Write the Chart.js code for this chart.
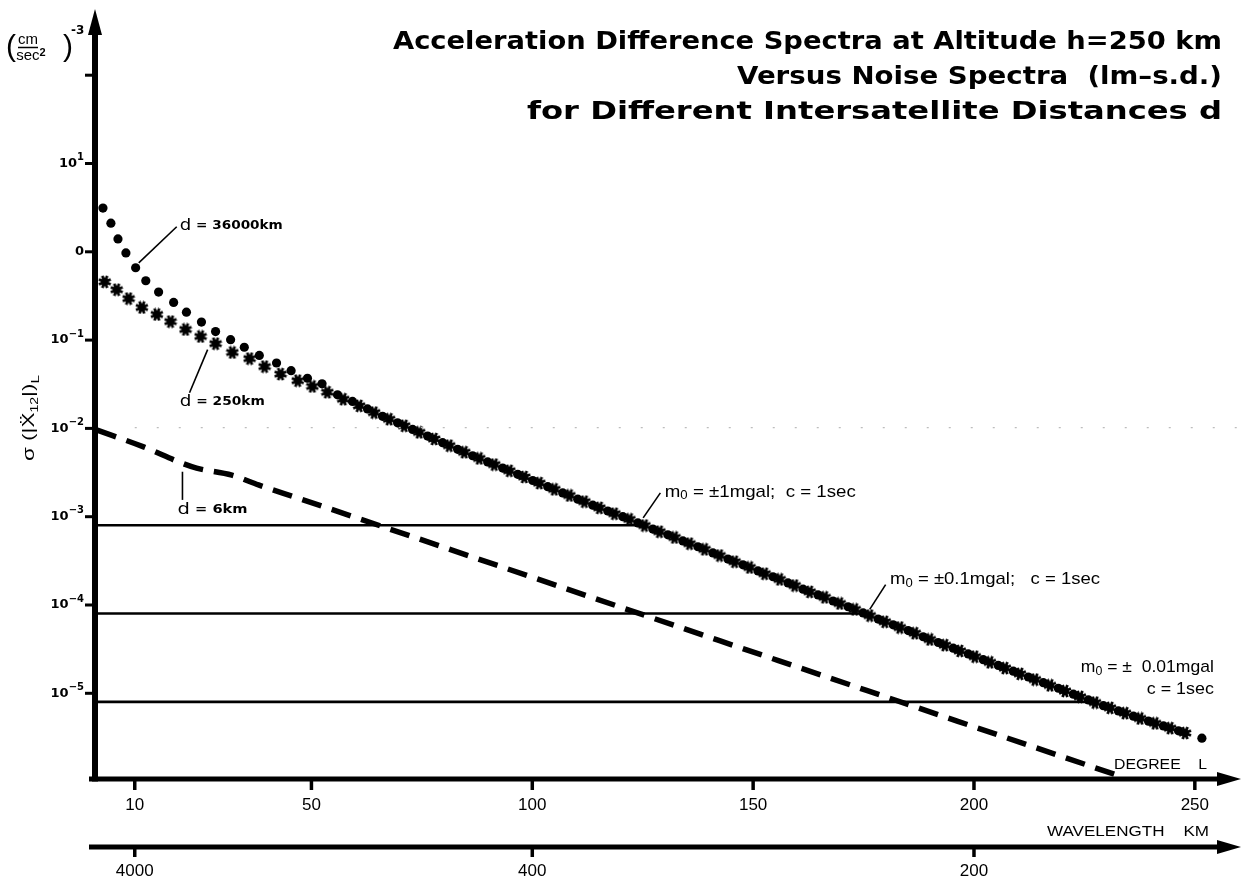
<!DOCTYPE html>
<html><head><meta charset="utf-8">
<script src="https://cdn.jsdelivr.net/npm/chart.js@4.4.1/dist/chart.umd.min.js"></script>
<style>html,body{margin:0;padding:0;background:#fff;}#wrap{width:1247px;height:880px;position:relative;}</style>
</head><body><div id="wrap"><canvas id="c" width="1247" height="880"></canvas></div>
<script>
// ---------------- DATA ----------------
// d = 250 km (stars)
const starDegrees = [3.2,5.9,8.6,11.6,15.0,18.1,21.5,24.9,28.3,32.1,36.0,39.4,43.0,46.9,50.2,53.6,57.2,60.8,64.2,67.6,71.0,74.4,77.8,81.2,84.6,88.0,91.4,94.8,98.2,101.6,105.0,108.4,111.8,115.2,118.6,122.0,125.4,128.8,132.2,135.6,139.0,142.4,145.8,149.2,152.6,156.0,159.4,162.8,166.2,169.6,173.0,176.4,179.8,183.2,186.6,190.0,193.4,196.8,200.2,203.6,207.0,210.4,213.8,217.2,220.6,224.0,227.4,230.8,234.2,237.6,241.0,244.4,247.8];
const starValues = [0.457,0.372,0.295,0.234,0.195,0.162,0.132,0.110,0.0912,0.0724,0.0617,0.0501,0.0412,0.0347,0.0299,0.0257,0.0214,0.0180,0.0151,0.0127,0.0107,0.00902,0.00759,0.00638,0.00537,0.00457,0.00389,0.00331,0.00282,0.00240,0.00204,0.00174,0.00148,0.00126,0.00108,0.000933,0.000794,0.000676,0.000582,0.000495,0.000427,0.000363,0.000309,0.000266,0.000226,0.000195,0.000166,0.000141,0.000122,0.000104,8.91e-5,7.59e-5,6.46e-5,5.56e-5,4.79e-5,4.07e-5,3.51e-5,3.02e-5,2.60e-5,2.24e-5,1.93e-5,1.66e-5,1.43e-5,1.23e-5,1.06e-5,9.12e-6,7.85e-6,6.84e-6,5.96e-6,5.19e-6,4.57e-6,4.03e-6,3.55e-6];
// d = 36000 km (dots)
const dotDegrees = [2.8,4.6,6.2,8.0,10.2,12.5,15.4,18.8,21.7,25.1,28.3,31.7,34.8,38.2,42.1,45.4,49.1,52.4,55.9,59.3,62.7,66.1,69.5,72.9,76.3,79.7,83.1,86.5,89.9,93.3,96.7,100.1,103.5,106.9,110.3,113.7,117.1,120.5,123.9,127.3,130.7,134.1,137.5,140.9,144.3,147.7,151.1,154.5,157.9,161.3,164.7,168.1,171.5,174.9,178.3,181.7,185.1,188.5,191.9,195.3,198.7,202.1,205.5,208.9,212.3,215.7,219.1,222.5,225.9,229.3,232.7,236.1,239.5,242.9,246.3,251.6];
const dotValues = [3.13,2.11,1.40,0.97,0.66,0.47,0.35,0.267,0.207,0.160,0.125,0.101,0.083,0.067,0.055,0.045,0.037,0.032,0.0240,0.0202,0.0166,0.0137,0.01156,0.00973,0.00818,0.00689,0.00579,0.00490,0.00417,0.00355,0.00302,0.00257,0.00219,0.00186,0.00158,0.00135,0.00116,0.00100,0.000851,0.000724,0.000624,0.000531,0.000457,0.000389,0.000331,0.000285,0.000243,0.000209,0.000178,0.000151,0.000130,0.000111,9.55e-5,8.13e-5,6.92e-5,5.96e-5,5.13e-5,4.37e-5,3.76e-5,3.24e-5,2.79e-5,2.40e-5,2.07e-5,1.78e-5,1.53e-5,1.32e-5,1.14e-5,9.77e-6,8.41e-6,7.24e-6,6.31e-6,5.50e-6,4.84e-6,4.27e-6,3.76e-6,3.1e-6];
// d = 6 km (dashed)
const dashDegrees = [1.5,12,21,24,32,38,47,140,232];
const dashValues = [0.00955,0.00617,0.00398,0.00355,0.00295,0.00229,0.00162,4.33e-5,1.2e-6];
// noise spectra (horizontal lines)
const noiseLevels = [8e-4, 8e-5, 8e-6];
const noiseEndDegrees = [125, 174.3, 227];
// faint scan line
const faintLevel = [0.0102];
// axes
const degreeTicks = [10,50,100,150,200,250];
const wavelengthTickDegrees = [10,100,200];
const wavelengthLabels = ['4000','400','200'];
const yTickValues = [1e2,1e1,1,1e-1,1e-2,1e-3,1e-4,1e-5];
const yTickBase = ['','10','0','10','10','10','10','10'];
const yTickSup = ['','1','','-1','-2','-3','-4','-5'];

// ---------------- MARKERS ----------------
function makeStar(size){
  const c=document.createElement('canvas');c.width=c.height=size;
  const g=c.getContext('2d');const r=size/2;
  g.translate(r,r);g.strokeStyle='#000';g.fillStyle='#000';g.lineWidth=2.8;
  for(let i=0;i<8;i++){const a=i*Math.PI/4+Math.PI/8;g.beginPath();g.moveTo(0,0);g.lineTo(Math.cos(a)*(r-0.6),Math.sin(a)*(r-0.6));g.stroke();}
  g.beginPath();g.arc(0,0,r*0.52,0,Math.PI*2);g.fill();
  return c;
}
const starImg = makeStar(14);

function pts(xs, ys){return xs.map((x,i)=>({x:x,y:ys[i]}));}

const datasets = [];
datasets.push({label:'faint',data:[{x:10,y:faintLevel[0]},{x:260,y:faintLevel[0]}],showLine:true,borderColor:'#bdbdbd',borderWidth:1.2,borderDash:[2,20],pointRadius:0});
noiseLevels.forEach((lv,i)=>{
  datasets.push({label:'noise'+i,data:[{x:1,y:lv},{x:noiseEndDegrees[i],y:lv}],showLine:true,borderColor:'#000',borderWidth:2.6,pointRadius:0});
});
datasets.push({label:'d=6km',data:pts(dashDegrees,dashValues),showLine:true,borderColor:'#000',borderWidth:5.5,borderDash:[20,11],borderCapStyle:'butt',pointRadius:0,tension:0.3,cubicInterpolationMode:'monotone'});
datasets.push({label:'d=250km',data:pts(starDegrees,starValues),showLine:false,pointStyle:starImg,pointRadius:7,backgroundColor:'#000',borderColor:'#000'});
datasets.push({label:'d=36000km',data:pts(dotDegrees,dotValues),showLine:false,pointStyle:'circle',pointRadius:4.6,backgroundColor:'#000',borderColor:'#000',borderWidth:0});

// ---------------- TEXT HELPERS ----------------
function runs(ctx, parts, x, y, align, width){
  let total=0;const ws=parts.map(p=>{ctx.font=p[1];const w=ctx.measureText(p[0]).width;total+=w;return w;});
  const sx=width?width/total:1;const W=total*sx;
  const x0=align==='right'?x-W:align==='center'?x-W/2:x;
  ctx.save();ctx.translate(x0,y);ctx.scale(sx,1);ctx.textBaseline='middle';ctx.textAlign='left';
  let cx=0;parts.forEach((p,i)=>{ctx.font=p[1];ctx.fillText(p[0],cx,p[2]||0);cx+=ws[i];});
  ctx.restore();return W;
}
const NARROW='"Liberation Sans Narrow","Liberation Sans",sans-serif';
const SANS='"Liberation Sans",Arial,sans-serif';
const DJ='"DejaVu Sans",sans-serif';

const curveLabels = [
  {parts:[['d',`16px ${DJ}`],[' = 36000km',`bold 12px ${DJ}`]], at:[20.2,1.97], align:'left', width:103},
  {parts:[['d',`16px ${DJ}`],[' = 250km',`bold 12px ${DJ}`]], at:[20.2,0.02], align:'left', width:85},
  {parts:[['d',`16px ${DJ}`],[' = 6km',`bold 12px ${DJ}`]], at:[19.7,0.0012], align:'left', width:70},
  {parts:[['m',`17px ${NARROW}`],['0',`12px ${NARROW}`,4],[' = ±1mgal;  c = 1sec',`17px ${NARROW}`]], at:[130,0.0019], align:'left', width:191},
  {parts:[['m',`17px ${NARROW}`],['0',`12px ${NARROW}`,4],[' = ±0.1mgal;   c = 1sec',`17px ${NARROW}`]], at:[181,0.000195], align:'left', width:210},
  {parts:[['m',`17px ${NARROW}`],['0',`12px ${NARROW}`,4],[' = ±  0.01mgal',`17px ${NARROW}`]], at:[254.3,1.95e-5], align:'right', width:133},
  {parts:[['c = 1sec',`17px ${NARROW}`]], at:[254.3,1.1e-5], align:'right', width:67}
];
const leaders = [
  [[19.5,1.92],[10.9,0.75]],
  [[26.5,0.078],[22.4,0.0253]],
  [[20.8,0.00323],[20.8,0.00155]],
  [[129,0.00186],[125.1,0.00097]],
  [[180,0.00017],[176.4,8.91e-5]]
];

function arrowH(ctx,x1,x2,y,w){
  ctx.lineWidth=w;ctx.beginPath();ctx.moveTo(x1,y);ctx.lineTo(x2-20,y);ctx.stroke();
  ctx.beginPath();ctx.moveTo(x2,y);ctx.lineTo(x2-24,y-7);ctx.lineTo(x2-24,y+7);ctx.closePath();ctx.fill();
}

const drawPlugin = {
  id:'drawPlugin',
  beforeDatasetsDraw(chart){
    const ctx=chart.ctx, xs=chart.scales.x, ys=chart.scales.y, ca=chart.chartArea;
    ctx.save();ctx.strokeStyle='#000';ctx.fillStyle='#000';ctx.lineCap='butt';
    const ax=xs.getPixelForValue(1), ay=ca.bottom;
    ctx.lineWidth=6;ctx.beginPath();ctx.moveTo(ax,ay+2.5);ctx.lineTo(ax,ca.top+22);ctx.stroke();
    ctx.beginPath();ctx.moveTo(ax,ca.top);ctx.lineTo(ax-7,ca.top+26);ctx.lineTo(ax+7,ca.top+26);ctx.closePath();ctx.fill();
    ctx.lineWidth=3;
    yTickValues.forEach(v=>{const y=ys.getPixelForValue(v);ctx.beginPath();ctx.moveTo(ax-10,y);ctx.lineTo(ax,y);ctx.stroke();});
    const xEnd=ca.right+2;
    arrowH(ctx,ax-6,xEnd,ay,5);
    ctx.lineWidth=3.5;
    degreeTicks.forEach(d=>{const x=xs.getPixelForValue(d);ctx.beginPath();ctx.moveTo(x,ay);ctx.lineTo(x,ay+11);ctx.stroke();});
    const wy=ay+68;
    arrowH(ctx,ax-6,xEnd,wy,5);
    ctx.lineWidth=3.5;
    wavelengthTickDegrees.forEach(d=>{const x=xs.getPixelForValue(d);ctx.beginPath();ctx.moveTo(x,wy);ctx.lineTo(x,wy+10);ctx.stroke();});
    ctx.restore();
  },
  afterDatasetsDraw(chart){
    const ctx=chart.ctx, xs=chart.scales.x, ys=chart.scales.y, ca=chart.chartArea;
    const P=(L,v)=>[xs.getPixelForValue(L),ys.getPixelForValue(v)];
    ctx.save();ctx.fillStyle='#000';ctx.strokeStyle='#000';
    const ax=xs.getPixelForValue(1), ay=ca.bottom, wy=ay+68;
    yTickValues.forEach((v,i)=>{
      if(!yTickBase[i])return;const y=ys.getPixelForValue(v);
      const parts=[[yTickBase[i],`bold 13px ${DJ}`]];
      if(yTickSup[i])parts.push([yTickSup[i].replace('-','\u2212'),`bold 10px ${DJ}`,-6]);
      runs(ctx,parts,ax-11,y,'right');
    });
    degreeTicks.forEach(d=>runs(ctx,[[String(d),`17px ${SANS}`]],xs.getPixelForValue(d),ay+26,'center'));
    wavelengthTickDegrees.forEach((d,i)=>runs(ctx,[[wavelengthLabels[i],`17px ${SANS}`]],xs.getPixelForValue(d),wy+24,'center'));
    runs(ctx,[['DEGREE    L',`15px ${SANS}`]],1207,ay-14,'right',93);
    runs(ctx,[['WAVELENGTH    KM',`15px ${SANS}`]],1209,ay+53,'right',162);
    ctx.lineWidth=1.6;
    leaders.forEach(l=>{const a=P(...l[0]),b=P(...l[1]);ctx.beginPath();ctx.moveTo(a[0],a[1]);ctx.lineTo(b[0],b[1]);ctx.stroke();});
    curveLabels.forEach(c=>{const p=P(...c.at);runs(ctx,c.parts,p[0],p[1],c.align,c.width);});
    // title
    const tf=`bold 24px ${DJ}`;
    runs(ctx,[['Acceleration Difference Spectra at Altitude h=250 km',tf]],1222,43,'right',829);
    runs(ctx,[['Versus Noise Spectra  (lm\u2013s.d.)',tf]],1222,78,'right',485);
    runs(ctx,[['for Different Intersatellite Distances d',tf]],1222,113,'right',695);
    // y-axis title (rotated)
    ctx.save();ctx.translate(30,418);ctx.rotate(-Math.PI/2);
    runs(ctx,[['\u03c3 (|',`16px ${SANS}`],['X\u0308',`16px ${SANS}`],['12',`10px ${SANS}`,5],['|)',`16px ${SANS}`],['L',`11px ${SANS}`,6]],0,0,'center',86);
    ctx.restore();
    // unit label
    runs(ctx,[['(',`30px ${SANS}`]],11,48,'center');
    runs(ctx,[[')',`30px ${SANS}`]],68,48,'center');
    runs(ctx,[['cm',`15px ${SANS}`]],28,40,'center');
    ctx.lineWidth=1.5;ctx.beginPath();ctx.moveTo(18,47.5);ctx.lineTo(38,47.5);ctx.stroke();
    runs(ctx,[['sec',`15px ${SANS}`],['2',`bold 11px ${SANS}`,-3]],31,56,'center');
    runs(ctx,[['-3',`bold 12px ${DJ}`]],71,31,'left');
    ctx.restore();
  }
};

new Chart(document.getElementById('c'),{
  type:'scatter',
  data:{datasets:datasets},
  options:{
    responsive:false,animation:false,devicePixelRatio:1,
    layout:{padding:{left:95,right:4,top:9,bottom:101}},
    plugins:{legend:{display:false},tooltip:{enabled:false},title:{display:false}},
    scales:{
      x:{type:'linear',min:1,max:260,display:false},
      y:{type:'logarithmic',min:1.07e-6,max:562,display:false}
    },
    elements:{line:{fill:false}}
  },
  plugins:[drawPlugin]
});
</script></body></html>
